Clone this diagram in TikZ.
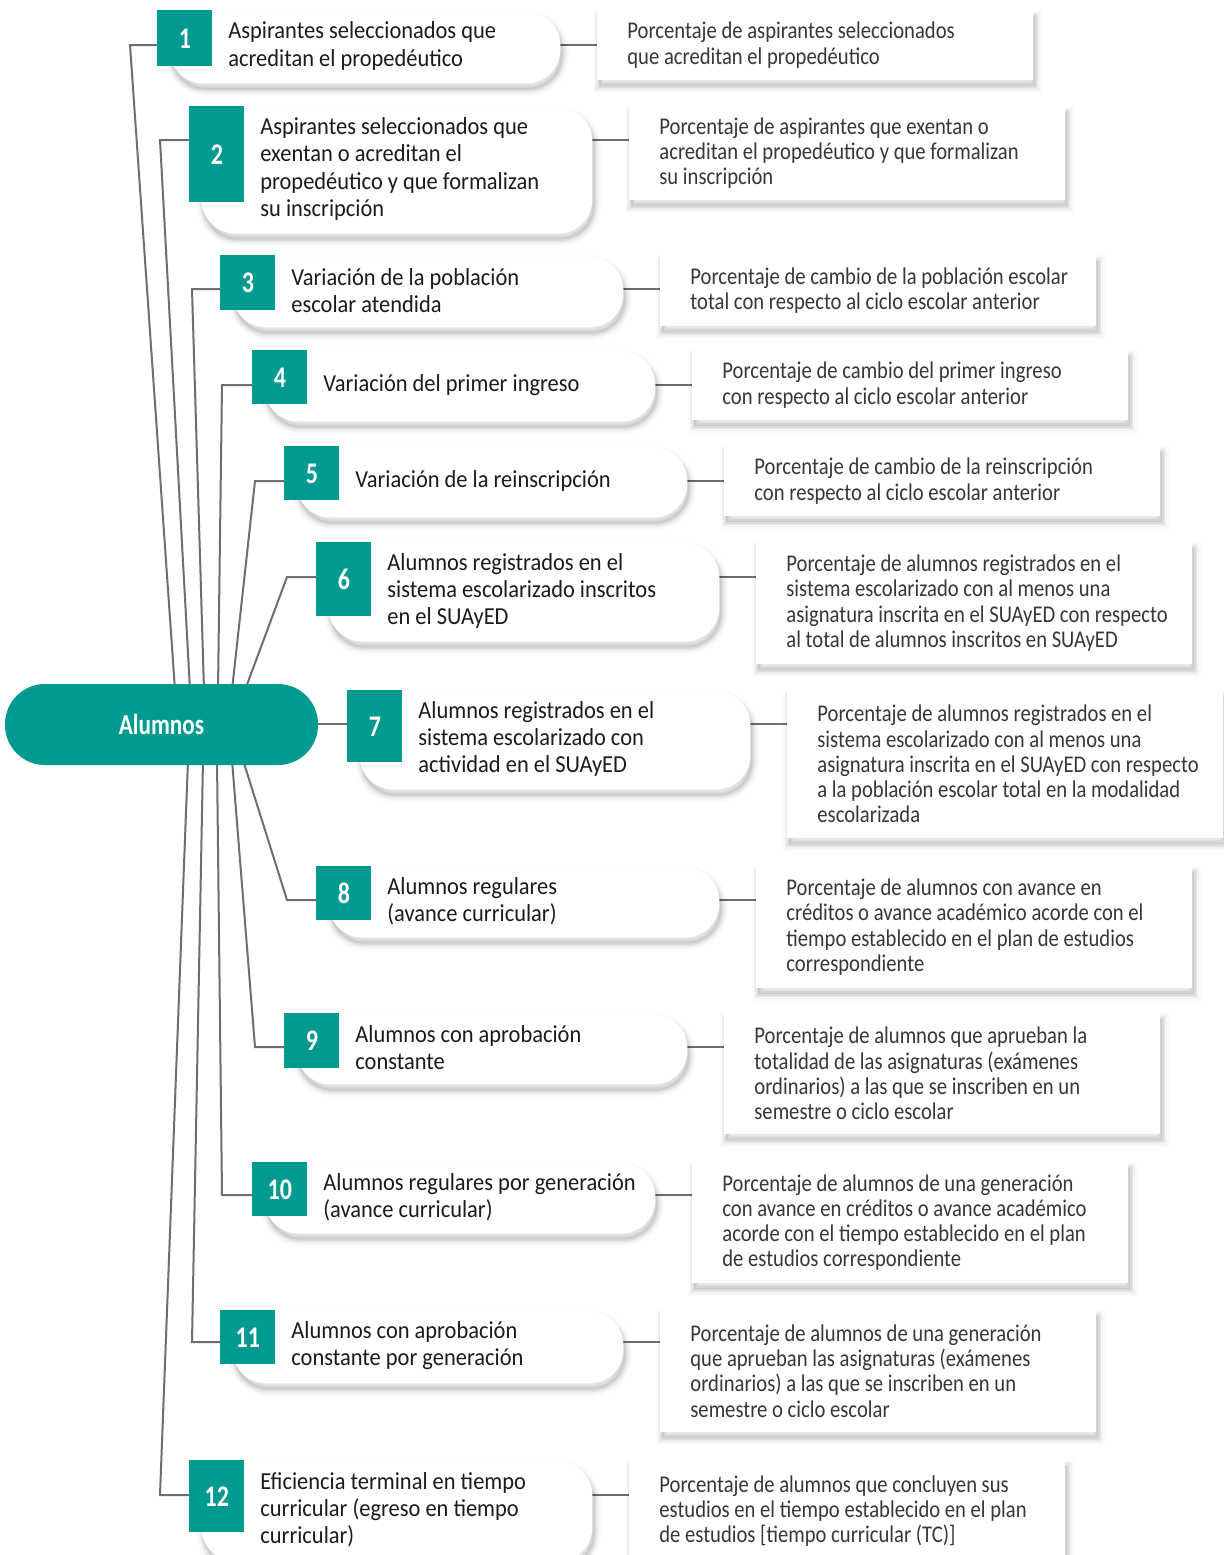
\documentclass[tikz,border=0pt]{standalone}
\usepackage{fontspec}
\setmainfont{Carlito}[FakeStretch=0.92]
\newfontfamily\descfont{Carlito}[FakeStretch=0.86]
\newfontfamily\numfont{Carlito}[FakeStretch=0.8]
\definecolor{teal1}{RGB}{0,154,144}
\definecolor{linegrey}{RGB}{109,110,113}
\definecolor{txt}{RGB}{30,26,27}
\definecolor{dtxt}{RGB}{55,55,55}
\pgfdeclarelayer{bg}
\pgfsetlayers{bg,main}
\tikzset{
  softshadow/.style={
    preaction={fill=black, opacity=0.08, transform canvas={xshift=1pt,yshift=-3pt}},
    preaction={draw=black, opacity=0.05, line width=1.5pt, transform canvas={xshift=1pt,yshift=-3pt}},
    preaction={draw=black, opacity=0.04, line width=3pt, transform canvas={xshift=1pt,yshift=-3pt}},
    preaction={draw=black, opacity=0.03, line width=4.5pt, transform canvas={xshift=1pt,yshift=-3pt}},
    preaction={draw=black, opacity=0.02, line width=6.5pt, transform canvas={xshift=1pt,yshift=-3pt}},
  },
  pill/.style={fill=white, rounded corners=17pt, inner sep=0pt, minimum width=195.5pt, softshadow},
  sqbox/.style={fill=teal1, inner sep=0pt, minimum width=27.5pt, text=white,
    font={\numfont\bfseries\fontsize{15}{15}\selectfont}},
  descbox/.style={fill=white, inner sep=0pt, minimum width=218pt, softshadow},
  pilltext/.style={inner sep=0pt, align=left, text=txt, font={\fontsize{12.2}{13.6}\selectfont}},
  desctext/.style={inner sep=0pt, align=left, text=dtxt, font={\descfont\fontsize{12}{12.6}\selectfont}},
  conn/.style={draw=linegrey, line width=1.1pt},
}
% #1 n, #2 sqL, #3 sqT, #4 sqB, #5 pillB, #6 descB, #7 pill text, #8 desc text
\newcommand\mkitem[8]{%
  \node[pill, minimum height={(#5-#3)*0.5pt}, anchor=north west] (p#1) at ({#2+12},{#3+1}) {};
  \node[sqbox, minimum height={(#4-#3)*0.5pt}, anchor=north west] (s#1) at (#2,#3) {#1};
  \node[pilltext, anchor=west] (t#1) at ({#2+71},{(#3+#5)/2}) {#7};
  \node[descbox, minimum height={(#6-#3)*0.5pt}, anchor=north west] (d#1) at ({#2+440},#3) {};
  \node[desctext, anchor=west] (e#1) at ({#2+470},{(#3+#6)/2}) {#8};
}
\begin{document}
\begin{tikzpicture}[x=0.5pt,y=-0.5pt]
\begin{pgfonlayer}{bg}
\fill[white] (0,0) rectangle (1223,1555);
\end{pgfonlayer}
\useasboundingbox (0,0) rectangle (1223,1555);

\node[fill=teal1, rounded corners=20pt, minimum width=156.5pt, minimum height=40.5pt, inner sep=0pt,
  text=white, font={\numfont\bfseries\fontsize{14.5}{14.5}\selectfont}] (alumnos) at (161.5,724.5) {Alumnos};

\mkitem{1}{157}{10}{66}{82}{80}{Aspirantes seleccionados que\\acreditan el propedéutico}{Porcentaje de aspirantes seleccionados\\que acreditan el propedéutico}
\mkitem{2}{189}{106}{202}{232}{200}{Aspirantes seleccionados que\\exentan o acreditan el\\propedéutico y que formalizan\\su inscripción}{Porcentaje de aspirantes que exentan o\\acreditan el propedéutico y que formalizan\\su inscripción}
\mkitem{3}{220}{255}{310}{326}{326}{Variación de la población\\escolar atendida}{Porcentaje de cambio de la población escolar\\total con respecto al ciclo escolar anterior}
\mkitem{4}{252}{350}{404}{420}{420}{Variación del primer ingreso}{Porcentaje de cambio del primer ingreso\\con respecto al ciclo escolar anterior}
\mkitem{5}{284}{446}{500}{516}{516}{Variación de la reinscripción}{Porcentaje de cambio de la reinscripción\\con respecto al ciclo escolar anterior}
\mkitem{6}{316}{542}{616}{640}{664}{Alumnos registrados en el\\sistema escolarizado inscritos\\en el SUAyED}{Porcentaje de alumnos registrados en el\\sistema escolarizado con al menos una\\asignatura inscrita en el SUAyED con respecto\\al total de alumnos inscritos en SUAyED}
\mkitem{7}{347}{690}{762}{788}{838}{Alumnos registrados en el\\sistema escolarizado con\\actividad en el SUAyED}{Porcentaje de alumnos registrados en el\\sistema escolarizado con al menos una\\asignatura inscrita en el SUAyED con respecto\\a la población escolar total en la modalidad\\escolarizada}
\mkitem{8}{316}{866}{920}{936}{988}{Alumnos regulares\\(avance curricular)}{Porcentaje de alumnos con avance en\\créditos o avance académico acorde con el\\tiempo establecido en el plan de estudios\\correspondiente}
\mkitem{9}{284}{1013}{1068}{1083}{1134}{Alumnos con aprobación\\constante}{Porcentaje de alumnos que aprueban la\\totalidad de las asignaturas (exámenes\\ordinarios) a las que se inscriben en un\\semestre o ciclo escolar}
\mkitem{10}{252}{1162}{1216}{1232}{1283}{Alumnos regulares por generación\\(avance curricular)}{Porcentaje de alumnos de una generación\\con avance en créditos o avance académico\\acorde con el tiempo establecido en el plan\\de estudios correspondiente}
\mkitem{11}{220}{1310}{1364}{1382}{1432}{Alumnos con aprobación\\constante por generación}{Porcentaje de alumnos de una generación\\que aprueban las asignaturas (exámenes\\ordinarios) a las que se inscriben en un\\semestre o ciclo escolar}
\mkitem{12}{189}{1460}{1532}{1560}{1562}{Eficiencia terminal en tiempo\\curricular (egreso en tiempo\\curricular)}{Porcentaje de alumnos que concluyen sus\\estudios en el tiempo establecido en el plan\\de estudios [tiempo curricular (TC)]}

\begin{pgfonlayer}{bg}
\foreach \n/\ly/\tx/\cx/\sy in {1/45/175/130/690, 2/140/190/160/690, 3/289/204/192/690, 4/385/218/222/690, 5/481/232/255/690, 6/577/245/287/690,
  8/900/243/287/760, 9/1047/232/255/760, 10/1195/217/222/760, 11/1342/203/192/760, 12/1495/188/160/760} {
  \coordinate (a\n) at (\tx,\sy);
  \coordinate (c\n) at (\cx,\ly);
  \draw[conn, line width=1pt] (a\n) -- (c\n) -- (s\n.west |- c\n);
  \draw[conn] ([xshift=-10pt]p\n.east |- c\n) -- ([xshift=5pt]d\n.west |- c\n);
}
\coordinate (c7) at (0,724);
\draw[conn] ([xshift=-5pt]alumnos.east |- c7) -- (s7.west |- c7);
\draw[conn] ([xshift=-10pt]p7.east |- c7) -- ([xshift=5pt]d7.west |- c7);
\end{pgfonlayer}
\end{tikzpicture}
\end{document}
